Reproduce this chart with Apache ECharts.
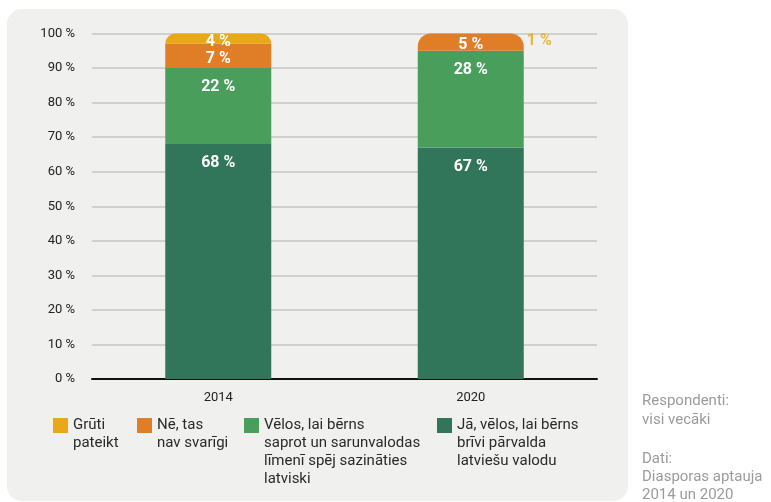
<!DOCTYPE html>
<html>
<head>
<meta charset="utf-8">
<script src="https://cdn.jsdelivr.net/npm/echarts@6/dist/echarts.min.js"></script>
<style>
  html, body { margin: 0; padding: 0; background: #fff; }
  #main { width: 771px; height: 502px; }
</style>
</head>
<body>
<div id="main"></div>
<script>
// data (percent)
var years = ['2014', '2020'];
var jaVelos = [68, 67];        // Jā, vēlos, lai bērns brīvi pārvalda latviešu valodu
var velosSaprot = [22, 28];    // Vēlos, lai bērns saprot un sarunvalodas līmenī ...
var neSvarigi = [7, 5];        // Nē, tas nav svarīgi
var gruti = [4, 1];            // Grūti pateikt
var yTicks = [0, 10, 20, 30, 40, 50, 60, 70, 80, 90, 100];

var names = [
    'Grūti\npateikt',
    'Nē, tas\nnav svarīgi',
    'Vēlos, lai bērns\nsaprot un sarunvalodas\nlīmenī spēj sazināties\nlatviski',
    'Jā, vēlos, lai bērns\nbrīvi pārvalda\nlatviešu valodu'
];
var colors = ['#E8A817', '#E07E27', '#4A9E5C', '#31755B'];

var font = 'Roboto';
var lineH = 18;

var myChart = echarts.init(document.getElementById('main'));

function pct(p) { return p.value + ' %'; }

// one legend per item, so each icon sits on the first text line
// (blank lines are put in front so the first real line is the middle one)
var legendLeft = [53, 137, 244, 437];
var legends = names.map(function (n, i) {
    var lines = n.split('\n').length;
    return {
        data: [n],
        left: legendLeft[i],
        top: 418 + 7.5 - (2 * lines - 1) * lineH / 2,
        padding: 0,
        selectedMode: false,
        icon: 'rect',
        itemWidth: 15,
        itemHeight: 15,
        formatter: function (name) {
            return new Array(lines).join('\n') + name;
        },
        textStyle: {
            fontFamily: font,
            fontSize: 15,
            color: '#2a2a2a',
            lineHeight: lineH
        }
    };
});

function topRadius(arr, which) {
    return arr.map(function (v, i) {
        return which[i] ? { value: v, itemStyle: { borderRadius: [13, 13, 0, 0] } } : v;
    });
}

var labelBase = { show: true, formatter: pct, color: '#fff', fontFamily: font, fontWeight: 'bold', fontSize: 16 };

var option = {
    backgroundColor: '#ffffff',
    color: colors,
    animation: false,
    graphic: [
        {
            type: 'rect', z: -100,
            shape: { x: 7, y: 9, width: 621, height: 492, r: 15 },
            style: { fill: '#F0F0EE' }
        },
        {
            type: 'text', left: 642, top: 392,
            style: { text: 'Respondenti:\nvisi vecāki', fontFamily: font, fontSize: 15, lineHeight: 19, fill: '#9b9b9b' }
        },
        {
            type: 'text', left: 642, top: 450,
            style: { text: 'Dati:\nDiasporas aptauja\n2014 un 2020', fontFamily: font, fontSize: 15, lineHeight: 18, fill: '#9b9b9b' }
        }
    ],
    legend: legends,
    grid: { left: 92, right: 174, top: 33.5, bottom: 123 },
    xAxis: {
        type: 'category',
        data: years,
        axisLine: { lineStyle: { color: '#111', width: 2 } },
        axisTick: { show: false },
        axisLabel: { fontFamily: font, fontSize: 13, color: '#222', margin: 12 }
    },
    yAxis: {
        type: 'value',
        min: yTicks[0],
        max: yTicks[yTicks.length - 1],
        interval: 10,
        axisLine: { show: false },
        axisTick: { show: false },
        axisLabel: { fontFamily: font, fontSize: 13, color: '#222', margin: 17, formatter: '{value} %' },
        splitLine: { lineStyle: { color: '#c6c6c6', width: 1.5 } }
    },
    series: [
        {
            name: names[3], type: 'bar', stack: 'a', barWidth: 106,
            itemStyle: { color: colors[3] },
            label: Object.assign({ position: 'insideTop', distance: 11 }, labelBase),
            data: jaVelos
        },
        {
            name: names[2], type: 'bar', stack: 'a', barWidth: 106,
            itemStyle: { color: colors[2] },
            label: Object.assign({ position: 'insideTop', distance: 11 }, labelBase),
            data: velosSaprot
        },
        {
            name: names[1], type: 'bar', stack: 'a', barWidth: 106,
            itemStyle: { color: colors[1] },
            label: Object.assign({ position: 'inside', offset: [0, 3] }, labelBase),
            data: topRadius(neSvarigi, [false, true])
        },
        {
            name: names[0], type: 'bar', stack: 'a', barWidth: 106,
            itemStyle: { color: colors[0] },
            label: Object.assign({ position: 'inside', offset: [0, 3] }, labelBase),
            data: [
                { value: gruti[0], itemStyle: { borderRadius: [13, 13, 0, 0] } },
                { value: gruti[1], label: { show: false } }
            ]
        },
        {
            // label for the 2020 "Grūti pateikt" share, which is too thin to show inside the bar
            type: 'scatter', symbolSize: 0, silent: true,
            label: { show: true, position: 'right', distance: 56,
                     formatter: function () { return gruti[1] + ' %'; },
                     color: colors[0], fontFamily: font, fontWeight: 'bold', fontSize: 16 },
            data: [[years[1], 97.8]]
        }
    ]
};
myChart.setOption(option);
</script>
</body>
</html>
